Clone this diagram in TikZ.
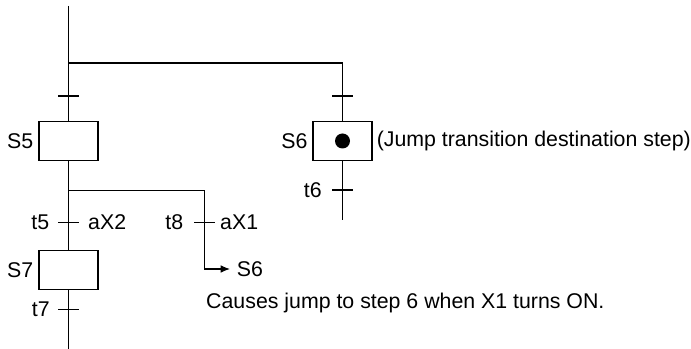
\documentclass[tikz,border=0pt]{standalone}
\usepackage{fontspec}
\setmainfont{Liberation Sans}
\usetikzlibrary{positioning,arrows.meta,calc}

\tikzset{
  sfcline/.style={line width=1.2pt},
  stepbox/.style={draw, line width=.9pt, minimum width=1.77cm, minimum height=1.16cm, inner sep=0pt},
  txt/.style={inner sep=0pt, font=\fontsize{18.2}{21}\selectfont}
}
% transition bar across a vertical line
\newcommand{\transbar}[1]{%
  \draw[sfcline] ($(#1)+(-10.5,0)$) -- ($(#1)+(10.5,0)$);%
}

\begin{document}
\begin{tikzpicture}[x=0.03cm, y=-0.03cm]
  \useasboundingbox (0,0) rectangle (691,349);

  % steps
  \node[stepbox] (s5) at (68.5,141) {};
  \node[stepbox] (s6) at (342.5,141) {};
  \node[stepbox] (s7) at (68.5,270) {};
  \fill (s6.center) circle (7.5);

  % coordinates of the lines
  \coordinate (top) at (68.5,6);
  \coordinate (fork) at (68.5,63);
  \coordinate (forkR) at (342.5,63);
  \coordinate (branch) at (68.5,190.7);
  \coordinate (branchR) at (204.5,190.7);
  \coordinate (jump) at (204.5,269);
  \coordinate (jumptip) at (230,269);
  \coordinate (end6) at (342.5,220);
  \coordinate (bot) at (68.5,349);

  \coordinate (tr5a) at (68.5,96);
  \coordinate (tr6a) at (342.5,96);
  \coordinate (t6) at (342.5,190);
  \coordinate (t5) at (68.5,222.3);
  \coordinate (t8) at (204.5,222.3);
  \coordinate (t7) at (68.5,309.3);

  % links
  \draw[sfcline] (top) -- (s5.north);
  \draw[sfcline] (fork) -- (forkR) -- (s6.north);
  \draw[sfcline] (s5.south) -- (s7.north);
  \draw[sfcline] (s7.south) -- (bot);
  \draw[sfcline] (s6.south) -- (end6);
  \draw[line width=.9pt, -{Latex[length=8pt,width=6.5pt]}] (branch) -- (branchR) -- (jump) -- (jumptip);

  % transitions
  \transbar{tr5a}
  \transbar{tr6a}
  \transbar{t6}
  \transbar{t5}
  \transbar{t8}
  \transbar{t7}

  % labels
  \node[txt, left=0.15cm of s5] {S5};
  \node[txt, left=0.14cm of s6] {S6};
  \node[txt, left=0.15cm of s7] {S7};
  \node[txt, right=0.12cm of s6] {(Jump transition destination step)};
  \node[txt, anchor=east] (lt6) at (322,190) {t6};
  \node[txt, anchor=east] (lt5) at (49.5,222.3) {t5};
  \node[txt, anchor=west] (lx2) at (88,222.3) {aX2};
  \node[txt, anchor=east] (lt8) at (183.5,222.3) {t8};
  \node[txt, anchor=west] (lx1) at (220,222.3) {aX1};
  \node[txt, anchor=east] (lt7) at (50,309.3) {t7};
  \node[txt, right=0.2cm of jumptip] (ls6) {S6};
  \node[txt, anchor=west] (note) at (206,303) {Causes jump to step 6 when X1 turns ON.};
\end{tikzpicture}
\end{document}
